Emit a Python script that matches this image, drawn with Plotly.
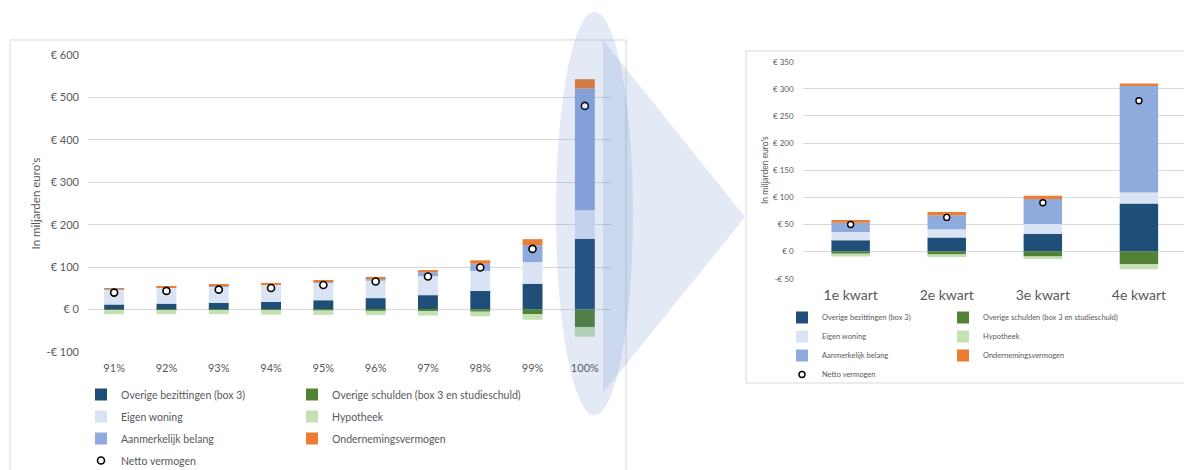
import plotly.graph_objects as go

# ---------------- data ----------------
categories_left = ["91%", "92%", "93%", "94%", "95%", "96%", "97%", "98%", "99%", "100%"]
left_overige_bezittingen = [12, 14, 16, 18, 22, 27, 34, 44, 61, 167]
left_overige_schulden = [-1, -1, -1, -1, -1.5, -3, -4, -5, -11, -41]
left_eigen_woning = [36, 37, 39, 40, 41, 41, 45, 47, 51, 67]
left_hypotheek = [-10, -10, -10, -11, -11, -10, -10, -11, -13, -23]
left_aanmerkelijk_belang = [1, 1.5, 1.5, 2, 3, 6, 9, 17, 40, 287]
left_ondernemingsvermogen = [1, 1, 1.5, 2, 2, 3, 5, 8, 14, 22]
left_netto = [40, 44, 47, 51, 58, 66, 78, 99, 143, 480]

categories_right = ["1e kwart", "2e kwart", "3e kwart", "4e kwart"]
right_overige_bezittingen = [21, 26, 33, 88.5]
right_overige_schulden = [-4, -5.5, -9, -23]
right_eigen_woning = [15, 15, 18, 20.5]
right_hypotheek = [-5, -4.5, -4.5, -9.5]
right_aanmerkelijk_belang = [17, 26, 46, 196]
right_ondernemingsvermogen = [5, 6, 6, 5]
right_netto = [50, 63, 90, 278]

series_names = ["Overige bezittingen (box 3)", "Overige schulden (box 3 en studieschuld)",
                "Eigen woning", "Hypotheek", "Aanmerkelijk belang",
                "Ondernemingsvermogen", "Netto vermogen"]

left_ticks = [-100, 0, 100, 200, 300, 400, 500, 600]
left_tick_labels = ["-€ 100", "€ 0", "€ 100", "€ 200", "€ 300", "€ 400", "€ 500", "€ 600"]
right_ticks = [-50, 0, 50, 100, 150, 200, 250, 300, 350]
right_tick_labels = ["-€ 50", "€ 0", "€ 50", "€ 100", "€ 150", "€ 200", "€ 250", "€ 300", "€ 350"]
y_title = "In miljarden euro's"

# ---------------- styling ----------------
W, H = 1184, 470
FONT = "Lato"
GREY = "#595959"
GRID = "#d9d9d9"
colors = ["#1f4e79", "#548235", "#dae3f3", "#c5e0b4", "#8faadc", "#ed7d31"]


def px(x):
    return x / W


def py(y):
    return 1 - y / H


fig = go.Figure()

left_bars = [left_overige_bezittingen, left_overige_schulden, left_eigen_woning,
             left_hypotheek, left_aanmerkelijk_belang, left_ondernemingsvermogen]
right_bars = [right_overige_bezittingen, right_overige_schulden, right_eigen_woning,
              right_hypotheek, right_aanmerkelijk_belang, right_ondernemingsvermogen]

left_legends = ["legend", "legend2", "legend", "legend2", "legend", "legend2", "legend"]
right_legends = ["legend3", "legend4", "legend3", "legend4", "legend3", "legend4", "legend3"]

for i, vals in enumerate(left_bars):
    fig.add_trace(go.Bar(x=categories_left, y=vals, name=series_names[i],
                         marker=dict(color=colors[i], line=dict(width=0)),
                         width=0.38, xaxis="x", yaxis="y",
                         legend=left_legends[i], legendgroup="L%d" % i))
fig.add_trace(go.Scatter(x=categories_left, y=left_netto, name=series_names[6], mode="markers",
                         marker=dict(symbol="circle", size=7, color="white",
                                     line=dict(color="black", width=1.6)),
                         xaxis="x", yaxis="y", legend="legend", legendgroup="L6"))

for i, vals in enumerate(right_bars):
    fig.add_trace(go.Bar(x=categories_right, y=vals, name=series_names[i],
                         marker=dict(color=colors[i], line=dict(width=0)),
                         width=0.4, xaxis="x2", yaxis="y2",
                         legend=right_legends[i], legendgroup="R%d" % i))
fig.add_trace(go.Scatter(x=categories_right, y=right_netto, name=series_names[6], mode="markers",
                         marker=dict(symbol="circle", size=6, color="white",
                                     line=dict(color="black", width=1.4)),
                         xaxis="x2", yaxis="y2", legend="legend3", legendgroup="R6"))

axis_common = dict(showline=False, ticks="", fixedrange=True, automargin=False)

fig.update_layout(
    width=W, height=H,
    margin=dict(l=0, r=0, t=0, b=0, pad=0, autoexpand=False),
    paper_bgcolor="white", plot_bgcolor="rgba(0,0,0,0)",
    barmode="relative",
    font=dict(family=FONT, color=GREY, size=11),
    xaxis=dict(domain=[px(88), px(611)], range=[-0.5, 9.5], anchor="y",
               showgrid=False, zeroline=False, tickfont=dict(size=11, color=GREY),
               ticklabelstandoff=8, **axis_common),
    yaxis=dict(domain=[py(352), py(55)], range=[-100, 600], anchor="x",
               tickvals=left_ticks, ticktext=left_tick_labels,
               showgrid=True, gridcolor=GRID, gridwidth=1,
               zeroline=True, zerolinecolor=GRID, zerolinewidth=1,
               tickfont=dict(size=11, color=GREY), ticklabelstandoff=8, **axis_common),
    xaxis2=dict(domain=[px(802.6), 1], range=[-0.5, 3.469], anchor="y2",
                showgrid=False, zeroline=False, tickfont=dict(size=14, color=GREY),
                ticklabelstandoff=6, **axis_common),
    yaxis2=dict(domain=[py(278.7), py(61.7)], range=[-50, 350], anchor="x2",
                tickvals=right_ticks, ticktext=right_tick_labels,
                showgrid=True, gridcolor=GRID, gridwidth=1,
                zeroline=True, zerolinecolor=GRID, zerolinewidth=1,
                tickfont=dict(size=8, color=GREY), ticklabelstandoff=8, **axis_common),
    legend=dict(x=px(121 - 40), y=py(380), xanchor="left", yanchor="top",
                orientation="v", bgcolor="rgba(0,0,0,0)", tracegroupgap=3,
                traceorder="grouped", font=dict(size=10.5, color=GREY)),
    legend2=dict(x=px(332 - 40), y=py(380), xanchor="left", yanchor="top",
                 orientation="v", bgcolor="rgba(0,0,0,0)", tracegroupgap=3,
                 traceorder="grouped", font=dict(size=10.5, color=GREY)),
    legend3=dict(x=px(822 - 40), y=py(303), xanchor="left", yanchor="top",
                 orientation="v", bgcolor="rgba(0,0,0,0)", tracegroupgap=0,
                 traceorder="grouped", font=dict(size=7.5, color=GREY)),
    legend4=dict(x=px(983 - 40), y=py(303), xanchor="left", yanchor="top",
                 orientation="v", bgcolor="rgba(0,0,0,0)", tracegroupgap=0,
                 traceorder="grouped", font=dict(size=7.5, color=GREY)),
    showlegend=True,
)

# y-axis titles
fig.add_annotation(text=y_title, x=px(35), y=py(203.5), xref="paper", yref="paper",
                   textangle=-90, showarrow=False, font=dict(size=11.5, color=GREY),
                   xanchor="center", yanchor="middle")
fig.add_annotation(text=y_title, x=px(765), y=py(170), xref="paper", yref="paper",
                   textangle=-90, showarrow=False, font=dict(size=8.5, color=GREY),
                   xanchor="center", yanchor="middle")

# chart frames (left frame runs off the bottom edge: draw only three sides)
left_frame = "M %f,%f L %f,%f L %f,%f L %f,%f" % (px(10), 0.0, px(10), py(40),
                                                  px(626), py(40), px(626), 0.0)
fig.add_shape(type="path", xref="paper", yref="paper", path=left_frame,
              line=dict(color=GRID, width=1), fillcolor="rgba(0,0,0,0)", layer="below")
right_frame = "M %f,%f L %f,%f L %f,%f L %f,%f" % (px(1184), py(51), px(746), py(51),
                                                   px(746), py(383), px(1184), py(383))
fig.add_shape(type="path", xref="paper", yref="paper", path=right_frame,
              line=dict(color=GRID, width=1), fillcolor="rgba(0,0,0,0)", layer="below")

# zoom highlight: ellipse + triangle
fig.add_shape(type="circle", xref="paper", yref="paper",
              x0=px(556), x1=px(633), y0=py(12), y1=py(415),
              line=dict(width=0), fillcolor="rgba(68,114,196,0.15)", layer="above")
tri = "M %f,%f L %f,%f L %f,%f Z" % (px(603), py(40), px(745), py(217), px(603), py(393))
fig.add_shape(type="path", xref="paper", yref="paper", path=tri,
              line=dict(width=0), fillcolor="rgba(68,114,196,0.15)", layer="above")

fig.write_html("out.html", config={"displayModeBar": False},
               post_script="document.body.style.margin='0px';document.body.style.overflow='hidden';")
